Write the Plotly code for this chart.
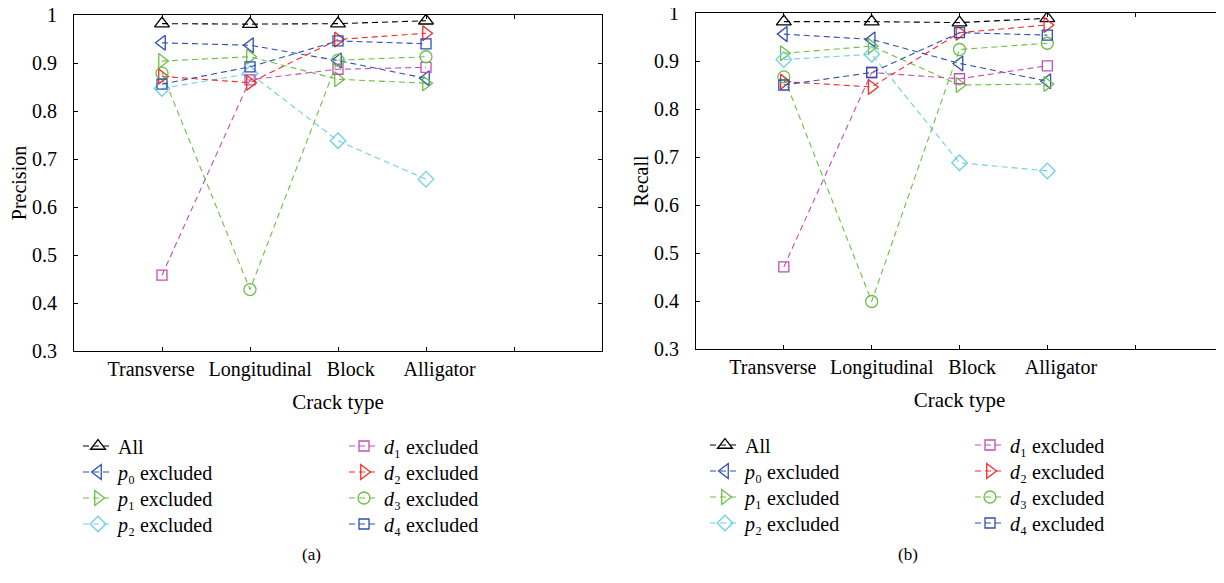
import plotly.graph_objects as go

# ---------------- data ----------------
categories = ["Transverse", "Longitudinal", "Block", "Alligator"]

series_labels = [
    "All",
    "<i>p</i>\u2080 excluded",
    "<i>p</i>\u2081 excluded",
    "<i>p</i>\u2082 excluded",
    "<i>d</i>\u2081 excluded",
    "<i>d</i>\u2082 excluded",
    "<i>d</i>\u2083 excluded",
    "<i>d</i>\u2084 excluded",
]

precision_all = [0.982, 0.981, 0.982, 0.988]
precision_p0 = [0.942, 0.937, 0.905, 0.868]
precision_p1 = [0.904, 0.913, 0.866, 0.858]
precision_p2 = [0.847, 0.878, 0.738, 0.658]
precision_d1 = [0.458, 0.865, 0.887, 0.891]
precision_d2 = [0.872, 0.859, 0.949, 0.962]
precision_d3 = [0.879, 0.428, 0.906, 0.913]
precision_d4 = [0.856, 0.892, 0.946, 0.940]

recall_all = [0.982, 0.982, 0.980, 0.989]
recall_p0 = [0.956, 0.945, 0.895, 0.858]
recall_p1 = [0.916, 0.931, 0.850, 0.852]
recall_p2 = [0.903, 0.914, 0.688, 0.671]
recall_d1 = [0.471, 0.876, 0.863, 0.890]
recall_d2 = [0.857, 0.846, 0.959, 0.975]
recall_d3 = [0.867, 0.399, 0.924, 0.937]
recall_d4 = [0.850, 0.876, 0.959, 0.954]

precision_series = [precision_all, precision_p0, precision_p1, precision_p2,
                    precision_d1, precision_d2, precision_d3, precision_d4]
recall_series = [recall_all, recall_p0, recall_p1, recall_p2,
                 recall_d1, recall_d2, recall_d3, recall_d4]

# ---------------- styles ----------------
colors = ["#000000", "#2f4fae", "#6cc043", "#6fd0e2",
          "#c24fb3", "#f52a2a", "#6cc043", "#2f4fae"]
symbols = ["triangle-up-open", "triangle-left-open", "triangle-right-open",
           "diamond-open", "square-open", "triangle-right-open",
           "circle-open", "square-open"]
sizes = [13, 13, 13, 12, 10, 13, 12, 10]

FONT = "Liberation Serif"
OFF = 8  # page body margin
W, H = 1224 - OFF, 583 - OFF

# horizontal label offsets (fraction of a category step) mimic the original
label_shift = [-0.125, 0.115, 0.145, 0.155]

x_pos = list(range(1, len(categories) + 1))
tick_vals = list(range(1, len(categories) + 2))
label_vals = [p + s for p, s in zip(x_pos, label_shift)]

fig = go.Figure()

def legend_id(k):
    return "legend" if k == 0 else "legend%d" % (k + 1)

for panel, (series_list, xa, ya) in enumerate(
        [(precision_series, "x", "y"), (recall_series, "x2", "y2")]):
    for i, vals in enumerate(series_list):
        fig.add_trace(go.Scatter(
            x=x_pos, y=vals, xaxis=xa, yaxis=ya,
            mode="lines+markers",
            name=series_labels[i],
            line=dict(color=colors[i], width=1.1, dash="6px,4px"),
            marker=dict(symbol=symbols[i], size=sizes[i], color=colors[i],
                        line=dict(color=colors[i], width=1.3)),
            legend=legend_id(panel * 8 + i),
            showlegend=True,
        ))

# invisible carriers so the label-only overlay axes get drawn
for xa, ya, vals in [("x3", "y", precision_all), ("x4", "y2", recall_all)]:
    fig.add_trace(go.Scatter(x=x_pos, y=vals, xaxis=xa, yaxis=ya,
                             mode="markers", marker=dict(opacity=0),
                             hoverinfo="skip", showlegend=False))

def px_x(p):
    return (p - OFF) / W

def px_y(p):
    return 1 - (p - OFF) / H

axis_common = dict(
    showline=True, linecolor="black", linewidth=1, mirror="ticks",
    ticks="inside", ticklen=4, tickwidth=1, tickcolor="black",
    showgrid=False, zeroline=False, automargin=False,
    ticklabeloverflow="allow",
    tickfont=dict(family=FONT, size=20, color="black"),
)

xaxis_common = dict(axis_common, range=[0, 6], tickmode="array",
                    tickvals=tick_vals, showticklabels=False)
xlabel_common = dict(range=[0, 6], tickmode="array", tickvals=label_vals,
                     ticktext=categories, tickangle=0, ticks="",
                     showline=False, showgrid=False, zeroline=False,
                     automargin=False, ticklabeloverflow="allow",
                     ticklabelstandoff=4,
                     tickfont=dict(family=FONT, size=20, color="black"),
                     title=dict(text="Crack type", standoff=14,
                                font=dict(family=FONT, size=21, color="black")))
yaxis_common = dict(axis_common, range=[0.3, 1.0], tickmode="linear",
                    tick0=0.3, dtick=0.1, ticklabelstandoff=12)

dom_a = [px_x(74), px_x(602)]
dom_b = [px_x(696), px_x(1223)]

fig.update_layout(
    width=W, height=H,
    margin=dict(l=0, r=0, t=0, b=0, autoexpand=False),
    paper_bgcolor="white", plot_bgcolor="white",
    font=dict(family=FONT, size=20, color="black"),
    xaxis=dict(xaxis_common, domain=dom_a, anchor="y"),
    yaxis=dict(yaxis_common, domain=[px_y(351), px_y(15)], anchor="x",
               title=dict(text="Precision", standoff=2,
                          font=dict(family=FONT, size=20, color="black"))),
    xaxis2=dict(xaxis_common, domain=dom_b, anchor="y2"),
    yaxis2=dict(yaxis_common, domain=[px_y(349), px_y(13)], anchor="x2",
                title=dict(text="Recall", standoff=0,
                           font=dict(family=FONT, size=20, color="black"))),
    xaxis3=dict(xlabel_common, domain=dom_a, anchor="y", overlaying="x"),
    xaxis4=dict(xlabel_common, domain=dom_b, anchor="y2", overlaying="x2"),
)

leg_common = dict(font=dict(family=FONT, size=20, color="black"),
                  bgcolor="rgba(0,0,0,0)", borderwidth=0,
                  xanchor="left", yanchor="middle", orientation="v",
                  itemwidth=30)
col_x = [[78, 344], [705, 970]]
row_y = [[446, 472, 498, 524], [445, 471, 497, 523]]
legends = {}
for panel in range(2):
    for i in range(8):
        col, row = divmod(i, 4)
        legends[legend_id(panel * 8 + i)] = dict(
            leg_common, x=px_x(col_x[panel][col]), y=px_y(row_y[panel][row]))
fig.update_layout(**legends)

for label, xc in [("(a)", 300), ("(b)", 920)]:
    fig.add_annotation(text=label, x=px_x(xc), y=px_y(566), xref="paper",
                       yref="paper", showarrow=False,
                       font=dict(family=FONT, size=17, color="black"))

fig.write_html("out.html")
